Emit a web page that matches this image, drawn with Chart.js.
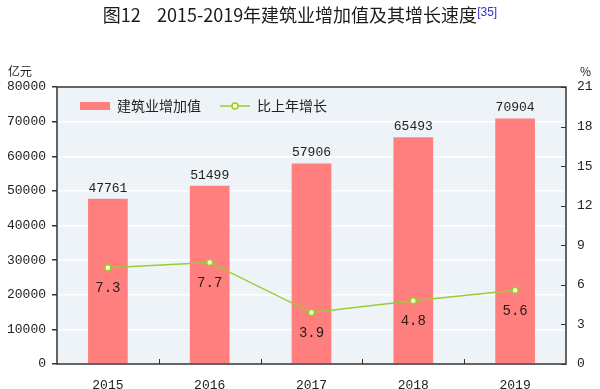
<!DOCTYPE html>
<html>
<head>
<meta charset="utf-8">
<script src="https://cdn.jsdelivr.net/npm/chart.js@4"></script>
<style>
  body { margin: 0; background: #fff; }
  #wrap { position: relative; width: 600px; height: 389px; }
  #title { position: absolute; left: 0; top: 1px; width: 600px; text-align: center;
           font: 400 18px "Noto Sans CJK SC", sans-serif; color: #1a1a1a; }
  #title sup { color: #3333cc; font-size: 12px; vertical-align: 6px; font-family: "Liberation Sans", sans-serif; }
  .unit { position: absolute; top: 62px; font: 12px "Noto Sans CJK SC", sans-serif; color: #222; }
</style>
</head>
<body>
<div id="wrap">
  <div id="title">图12&nbsp;&nbsp;&nbsp;&nbsp;2015-2019年建筑业增加值及其增长速度<sup>[35]</sup></div>
  <div class="unit" style="left:8px">亿元</div>
  <div class="unit" style="left:580px">%</div>
  <canvas id="chart1" width="600" height="389"></canvas>
</div>
<script>
var years = ['2015', '2016', '2017', '2018', '2019'];
var addedValue = [47761, 51499, 57906, 65493, 70904];
var growth = [7.3, 7.7, 3.9, 4.8, 5.6];
var leftTicks = [0, 10000, 20000, 30000, 40000, 50000, 60000, 70000, 80000];
var rightTicks = [0, 3, 6, 9, 12, 15, 18, 21];

var monoFont = '"Liberation Mono", "DejaVu Sans Mono", monospace';

// background, border, extra ticks, legend and value labels
var decor = {
  id: 'decor',
  beforeDraw: function (chart) {
    var a = chart.chartArea, ctx = chart.ctx;
    ctx.save();
    ctx.fillStyle = '#eef3f8';
    ctx.fillRect(a.left, a.top, a.right - a.left, a.bottom - a.top);
    ctx.restore();
  },
  afterDatasetsDraw: function (chart) {
    var a = chart.chartArea, ctx = chart.ctx;
    var x = chart.scales.x, yr = chart.scales.y1;
    ctx.save();
    ctx.strokeStyle = '#333';
    ctx.lineWidth = 1.5;
    ctx.strokeRect(a.left, a.top, a.right - a.left, a.bottom - a.top);
    ctx.lineWidth = 1;
    // right axis ticks (inside)
    rightTicks.forEach(function (v) {
      var py = Math.round(yr.getPixelForValue(v)) + 0.5;
      ctx.beginPath(); ctx.moveTo(a.right - 5, py); ctx.lineTo(a.right, py); ctx.stroke();
    });
    // category separators on x axis
    for (var i = 1; i < years.length; i++) {
      var px = Math.round((x.getPixelForValue(i - 1) + x.getPixelForValue(i)) / 2) + 0.5;
      ctx.beginPath(); ctx.moveTo(px, a.bottom); ctx.lineTo(px, a.bottom - 5); ctx.stroke();
    }
    // bar value labels
    ctx.font = '13px ' + monoFont;
    ctx.fillStyle = '#222';
    ctx.textAlign = 'center';
    ctx.textBaseline = 'bottom';
    chart.getDatasetMeta(1).data.forEach(function (bar, i) {
      ctx.fillText(addedValue[i], bar.x, bar.y - 4);
    });
    // line value labels
    ctx.font = '14px ' + monoFont;
    ctx.fillStyle = '#2a1a1a';
    ctx.textBaseline = 'middle';
    chart.getDatasetMeta(0).data.forEach(function (pt, i) {
      ctx.fillText(growth[i].toFixed(1), pt.x, pt.y + 21);
    });
    // legend
    var ly = a.top + 19;
    ctx.fillStyle = '#ff7f7f';
    ctx.fillRect(a.left + 23, ly - 4, 30, 8);
    ctx.font = '14px "Noto Sans CJK SC", sans-serif';
    ctx.fillStyle = '#222';
    ctx.textAlign = 'left';
    ctx.fillText('建筑业增加值', a.left + 60, ly);
    ctx.strokeStyle = '#99cc33';
    ctx.lineWidth = 1.5;
    ctx.beginPath(); ctx.moveTo(a.left + 163, ly); ctx.lineTo(a.left + 193, ly); ctx.stroke();
    ctx.beginPath(); ctx.arc(a.left + 178, ly, 3, 0, Math.PI * 2);
    ctx.fillStyle = '#ffffcc'; ctx.fill(); ctx.stroke();
    ctx.fillStyle = '#222';
    ctx.fillText('比上年增长', a.left + 200, ly);
    ctx.restore();
  }
};

var graph = document.getElementById('chart1');

var myChart = new Chart(graph, {
  data: {
    labels: years,
    datasets: [{
      type: 'line',
      label: '比上年增长',
      data: growth,
      yAxisID: 'y1',
      borderColor: '#99cc33',
      borderWidth: 1.5,
      pointRadius: 3,
      pointBackgroundColor: '#ffffcc',
      pointBorderColor: '#99cc33',
      pointBorderWidth: 1.5,
      order: 0
    }, {
      type: 'bar',
      label: '建筑业增加值',
      data: addedValue,
      yAxisID: 'y',
      backgroundColor: '#ff7f7f',
      barPercentage: 0.39,
      categoryPercentage: 1,
      order: 1
    }]
  },
  options: {
    responsive: false,
    animation: false,
    layout: { padding: { top: 87, left: 0, right: 0, bottom: 0 } },
    plugins: { legend: { display: false }, title: { display: false }, tooltip: { enabled: false } },
    scales: {
      x: {
        afterFit: function (s) { s.height = 25; },
        grid: { display: false },
        border: { display: false },
        ticks: { color: '#222', font: { size: 13, family: monoFont }, padding: 6 }
      },
      y: {
        position: 'left',
        min: 0, max: 80000,
        afterFit: function (s) { s.width = 57; },
        afterBuildTicks: function (s) { s.ticks = leftTicks.map(function (v) { return { value: v }; }); },
        grid: { color: '#ffffff', lineWidth: 1.5, tickColor: '#333', tickLength: 5 },
        border: { display: false },
        ticks: { color: '#222', font: { size: 13, family: monoFont }, padding: 6,
                 callback: function (v) { return String(v); } }
      },
      y1: {
        position: 'right',
        min: 0, max: 21,
        afterFit: function (s) { s.width = 34; },
        afterBuildTicks: function (s) { s.ticks = rightTicks.map(function (v) { return { value: v }; }); },
        grid: { drawOnChartArea: false, drawTicks: false },
        border: { display: false },
        ticks: { color: '#222', font: { size: 13, family: monoFont }, padding: 11,
                 callback: function (v) { return String(v); } }
      }
    }
  },
  plugins: [decor]
});
</script>
</body>
</html>
